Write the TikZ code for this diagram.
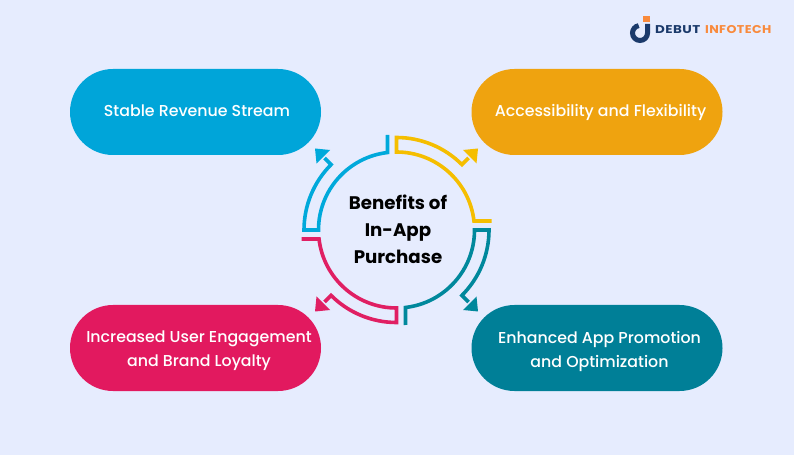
\documentclass[tikz,border=0pt]{standalone}
\usepackage{fontspec}
\setmainfont{Poppins}
\newfontfamily\pillfont{Poppins Medium}
\newfontfamily\logofontA{Poppins}[FakeStretch=1.19,LetterSpace=4]
\newfontfamily\logofontB{Poppins}[FakeStretch=1.12,LetterSpace=3.5]
\definecolor{bg}{HTML}{E6ECFE}
\definecolor{pillblue}{HTML}{00A5D9}
\definecolor{pillorange}{HTML}{EFA30F}
\definecolor{pillpink}{HTML}{E2195F}
\definecolor{pillteal}{HTML}{007F97}
\definecolor{ringyellow}{HTML}{F5BE00}
\definecolor{ringblue}{HTML}{00A9DB}
\definecolor{ringteal}{HTML}{00889C}
\definecolor{ringpink}{HTML}{E01F63}
\definecolor{logoblue}{HTML}{1B3A6B}
\definecolor{logoorange}{HTML}{F98A3C}
\tikzset{
  x=1pt,y=1pt,
  pill/.style={rounded corners=43pt,minimum width=251pt,minimum height=86pt,inner sep=0pt},
  pilltext/.style={inner sep=0pt,text=white,align=center,font=\pillfont\fontsize{15.8}{24}\selectfont},
  title/.style={align=center,font=\fontsize{18.2}{27}\selectfont\bfseries,text=black,inner sep=0pt},
  ringline/.style={line width=3.6pt,line join=miter},
  logotext/.style={anchor=west,inner sep=0pt},
}
\newcommand{\ringarrow}[2]{%
  \begin{scope}[shift={(396.5,225)},rotate=#1]
    \draw[ringline,color=#2]
      (95,9) -- (6.6:78) arc[start angle=6.6,end angle=90,radius=78]
      -- (90:92.5) arc[start angle=90,end angle=45,radius=92.5] -- (72,72);
    \fill[color=#2] (81.5,81.5) -- (66.5,80) -- (80,66.5) -- cycle;
  \end{scope}}
\begin{document}
\begin{tikzpicture}
\useasboundingbox (0,0) rectangle (794,455);
\fill[bg] (0,0) rectangle (794,455);
\node[pill,fill=pillblue] (revenue) at (195.5,343) {};
\node[pill,fill=pillorange] (access) at (597,343) {};
\node[pill,fill=pillpink] (engage) at (195.5,107) {};
\node[pill,fill=pillteal] (promo) at (597,107) {};
\node[pilltext,anchor=base] (revenuetext) at (197,338.5) {Stable Revenue Stream};
\node[pilltext,anchor=base] (accesstext) at (600.5,338.5) {Accessibility and Flexibility};
\node[pilltext] (engagetext) at (199,104) {Increased User Engagement\\and Brand Loyalty};
\node[pilltext] (promotext) at (599.5,104) {Enhanced App Promotion\\and Optimization};
\ringarrow{0}{ringyellow}
\ringarrow{-90}{ringteal}
\ringarrow{-180}{ringpink}
\ringarrow{-270}{ringblue}
\node[title] (center) at (398,226) {Benefits of\\In-App\\Purchase};
% logo
\draw[logoblue,line width=5pt] (647.5,431) -- (647.5,422) arc[start angle=0,end angle=-260,radius=7.5];
\fill[logoorange] (643,433) rectangle (650,439);
\node[logotext,text=logoblue,font=\logofontA\fontsize{11.3}{12}\selectfont\bfseries] (debut) at (655,425) {DEBUT};
\node[logotext,text=logoorange,font=\logofontB\fontsize{11.3}{12}\selectfont\bfseries] (info) at (705,425) {INFOTECH};
\end{tikzpicture}
\end{document}
